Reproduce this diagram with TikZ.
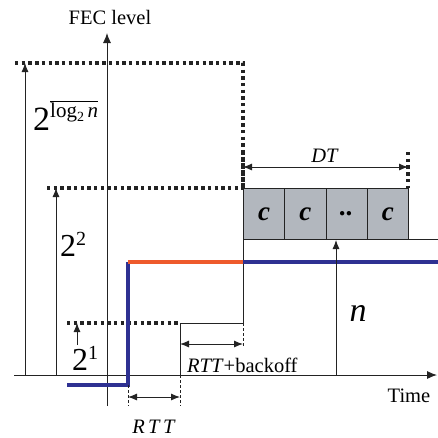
\documentclass[tikz,border=0pt]{standalone}
\usepackage{fontspec}
\setmainfont{Liberation Serif}
\usetikzlibrary{arrows.meta}
\definecolor{fecblue}{RGB}{46,49,146}
\definecolor{fecorange}{RGB}{238,90,44}
\definecolor{boxgray}{RGB}{178,183,190}
\definecolor{inkgray}{RGB}{35,35,35}
\tikzset{
  thinline/.style={line width=0.9pt,draw=inkgray},
  dotline/.style={draw=inkgray,line width=3.2pt,dash pattern=on 3.4pt off 3.3pt},
  dashline/.style={line width=0.9pt,draw=inkgray,dash pattern=on 3pt off 2pt},
  uparrow/.style={thinline,-{Latex[length=9pt,width=7pt]}},
  dimarrow/.style={thinline,{Latex[length=9pt,width=7pt]}-{Latex[length=9pt,width=7pt]}},
  fecline/.style={line width=4.5pt},
  cbox/.style={draw=inkgray,line width=1.1pt,fill=boxgray,minimum width=41.25pt,minimum height=51pt,inner sep=0pt,anchor=north west,font=\fontsize{27}{27}\selectfont\bfseries\itshape},
  lbl/.style={inner sep=0pt,font=\fontsize{20.5}{20.5}\selectfont}
}
\begin{document}
\begin{tikzpicture}[x=1pt,y=-1pt]
\useasboundingbox (0,0) rectangle (438,437);
% coordinates
\coordinate (xa0) at (14,375);
\coordinate (xa1) at (437,375);
\coordinate (ya0) at (107,406);
\coordinate (ya1) at (107,33);
% axes
\draw[thinline,-{Latex[length=10pt,width=8pt]}] (xa0) -- (xa1);
\draw[thinline,-{Latex[length=10pt,width=8pt]}] (ya0) -- (ya1);
\node[lbl] (fec) at (110,17) {FEC level};
\node[lbl] (time) at (409,396) {Time};
% dotted levels
\coordinate (t0) at (15,63);
\coordinate (t1) at (243,63);
\coordinate (m0) at (47,188);
\coordinate (m1) at (243,188);
\coordinate (b0) at (67,323);
\coordinate (b1) at (180,323);
\draw[dotline] (t0) -- (t1) -- (m1);
\draw[dotline] (m0) -- (m1);
\draw[dotline] (b0) -- (b1);
% level arrows
\coordinate (a1b) at (25,375); \coordinate (a1t) at (25,63);
\coordinate (a2b) at (56,375); \coordinate (a2t) at (56,188);
\coordinate (a3b) at (77,345); \coordinate (a3t) at (77,323);
\draw[uparrow] (a1b) -- (a1t);
\draw[uparrow] (a2b) -- (a2t);
\draw[uparrow] (a3b) -- (a3t);
% labels of levels
\node[inner sep=0pt,anchor=base west] (l3) at (33,130) {\fontsize{34}{34}\selectfont 2\raisebox{13pt}{\fontsize{21}{21}\selectfont$\overline{\hbox{log\raisebox{-4pt}{\fontsize{14}{14}\selectfont 2}\,\textit{n}}}$}};
\node[inner sep=0pt,anchor=base west] (l2) at (60,256) {\fontsize{32}{32}\selectfont 2\raisebox{11pt}{\fontsize{20}{20}\selectfont 2}};
\node[inner sep=0pt,anchor=base west] (l1) at (72,370) {\fontsize{32}{32}\selectfont 2\raisebox{11pt}{\fontsize{20}{20}\selectfont 1}};
% thin step line
\coordinate (s0) at (180,375);
\coordinate (s1) at (180,323);
\coordinate (s2) at (243,323);
\coordinate (s3) at (243,188);
\draw[thinline] (s0) -- (s1) -- (s2) -- (s3);
% FEC curve
\coordinate (f0) at (67,385);
\coordinate (f1) at (128,385);
\coordinate (f2) at (128,262);
\coordinate (f3) at (243,262);
\coordinate (f4) at (438,262);
\draw[fecline,fecblue] (f0) -- (f1) -- (f2);
\draw[fecline,fecorange] (f2) -- (f3);
\draw[fecline,fecblue] (f3) -- (f4);
% dashed markers
\coordinate (d1a) at (128,385); \coordinate (d1b) at (128,406);
\coordinate (d2a) at (180,375); \coordinate (d2b) at (180,406);
\coordinate (d3a) at (243,323); \coordinate (d3b) at (243,347);
\draw[dashline] (d1a) -- (d1b);
\draw[dashline] (d2a) -- (d2b);
\draw[dashline] (d3a) -- (d3b);
% RTT arrows
\coordinate (r1a) at (128,397); \coordinate (r1b) at (180,397);
\draw[dimarrow] (r1a) -- (r1b);
\node[lbl] (rtt) at (154,427) {\textit{R\,T\,T}};
\coordinate (r2a) at (180,344); \coordinate (r2b) at (243,344);
\draw[dimarrow] (r2a) -- (r2b);
\node[lbl,anchor=west] (rttb) at (187,365) {\textit{RTT}+backoff};
% boxes
\node[cbox] (c1) at (243,188) {c};
\node[cbox] (c2) at (284.25,188) {c};
\node[cbox] (c3) at (325.5,188) {..};
\node[cbox] (c4) at (366.75,188) {c};
\coordinate (bl) at (408,239);
\coordinate (br) at (438,239);
\draw[thinline] (bl) -- (br);
% DT
\coordinate (dt0a) at (243,152); \coordinate (dt0b) at (243,188);
\coordinate (dt1a) at (408,152); \coordinate (dt1b) at (408,188);
\draw[dotline] (dt0a) -- (dt0b);
\draw[dotline] (dt1a) -- (dt1b);
\coordinate (dta) at (243,167); \coordinate (dtb) at (408,167);
\draw[dimarrow] (dta) -- (dtb);
\node[lbl] (dt) at (325,156) {\textit{DT}};
% n arrow
\coordinate (na) at (336,375); \coordinate (nb) at (336,240);
\draw[uparrow] (na) -- (nb);
\node[inner sep=0pt,font=\fontsize{34}{34}\selectfont\itshape] (nl) at (358,313) {n};
\end{tikzpicture}
\end{document}
